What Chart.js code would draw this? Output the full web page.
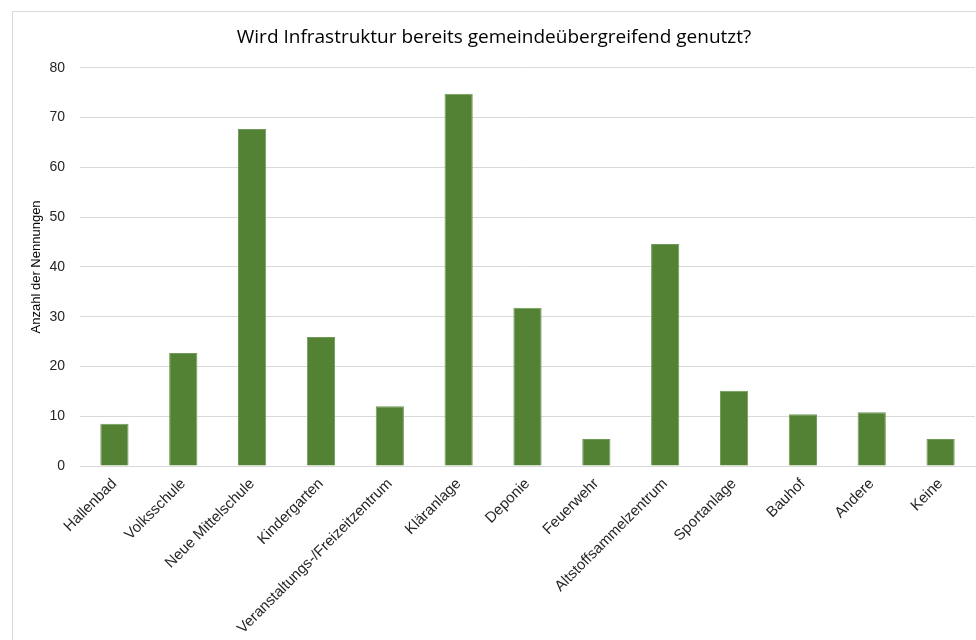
<!DOCTYPE html>
<html><head><meta charset="utf-8">
<script src="https://cdn.jsdelivr.net/npm/chart.js@4.4.1/dist/chart.umd.min.js"></script>
<style>
html,body{margin:0;padding:0;background:#fff;width:976px;height:640px;overflow:hidden;}
#frame{position:absolute;left:12px;top:11px;width:980px;height:650px;border:1px solid #d9d9d9;box-sizing:border-box;}
#wrap{position:absolute;left:13px;top:12px;width:963px;height:628px;}
</style></head>
<body>
<div id="frame"></div>
<div id="wrap"><canvas id="c"></canvas></div>
<script>
const categories = ["Hallenbad","Volksschule","Neue Mittelschule","Kindergarten","Veranstaltungs-/Freizeitzentrum","Kläranlage","Deponie","Feuerwehr","Altstoffsammelzentrum","Sportanlage","Bauhof","Andere","Keine"];
const values = [8.5,22.7,67.7,25.9,12.0,74.8,31.8,5.4,44.6,15.1,10.4,10.8,5.4];
const yTicks = [0,10,20,30,40,50,60,70,80];
const titleText = "Wird Infrastruktur bereits gemeindeübergreifend genutzt?";
const yTitle = "Anzahl der Nennungen";

new Chart(document.getElementById('c'), {
  type: 'bar',
  data: {
    labels: categories,
    datasets: [{
      data: values,
      backgroundColor: '#548235',
      borderColor: '#6f9a57',
      borderWidth: 1,
      categoryPercentage: 1,
      barPercentage: 0.41
    }]
  },
  options: {
    responsive: true,
    maintainAspectRatio: false,
    animation: false,
    layout: { padding: { left: 0, right: 1, top: 0, bottom: 0 } },
    plugins: {
      legend: { display: false },
      tooltip: { enabled: false },
      title: {
        display: true,
        text: titleText,
        color: '#000000',
        font: { family: '"Liberation Sans Narrow", "Open Sans", sans-serif', size: 19, weight: 'normal' },
        padding: { top: 14, bottom: 19 }
      }
    },
    scales: {
      x: {
        grid: { display: false, drawTicks: false },
        border: { display: true, color: '#d9d9d9' },
        ticks: {
          color: '#262626',
          font: { family: '"Liberation Sans", Arial, sans-serif', size: 15 },
          maxRotation: 45, minRotation: 45, autoSkip: false, padding: 9
        },
        afterFit: s => { s.height = 174; }
      },
      y: {
        min: 0, max: 80,
        afterBuildTicks: s => { s.ticks = yTicks.map(v => ({ value: v })); },
        grid: { color: '#d9d9d9', drawTicks: false },
        border: { display: false },
        ticks: {
          color: '#262626',
          font: { family: '"Liberation Sans", Arial, sans-serif', size: 14 },
          padding: 15
        },
        title: {
          display: true, text: yTitle, color: '#000000',
          font: { family: '"Liberation Sans", Arial, sans-serif', size: 13 },
          padding: { top: 16, bottom: 4 }
        },
        afterFit: s => { s.width = 67; }
      }
    }
  }
});
</script>
</body></html>
